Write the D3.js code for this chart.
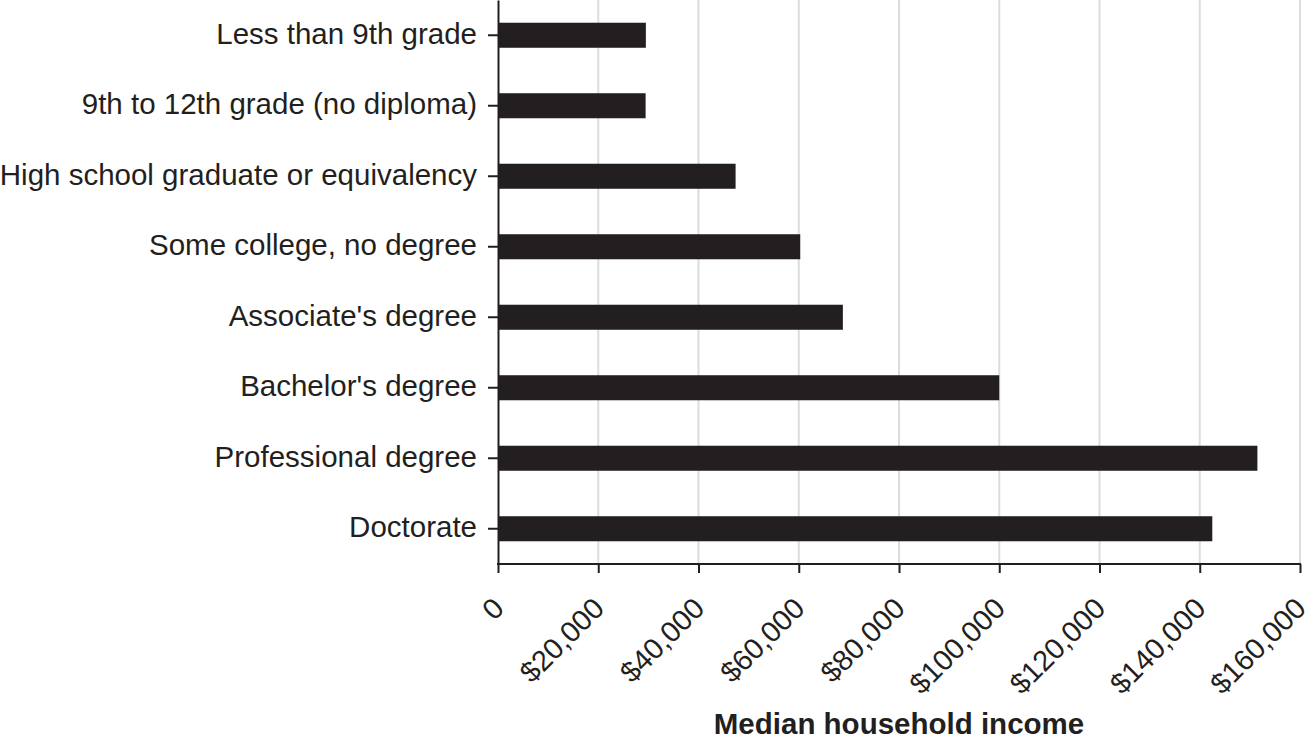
<!DOCTYPE html>
<html>
<head>
<meta charset="utf-8">
<script src="https://cdn.jsdelivr.net/npm/d3@7"></script>
<style>
  html, body { margin: 0; padding: 0; background: #fff; }
  svg { display: block; font-family: "Liberation Sans", Arial, Helvetica, sans-serif; }
</style>
</head>
<body>
<svg id="chart" width="1315" height="740"></svg>
<script>
const categories = [
  "Less than 9th grade",
  "9th to 12th grade (no diploma)",
  "High school graduate or equivalency",
  "Some college, no degree",
  "Associate's degree",
  "Bachelor's degree",
  "Professional degree",
  "Doctorate"
];
const incomes = [29500, 29450, 47400, 60300, 68800, 100000, 151500, 142500];
const tickValues = [0, 20000, 40000, 60000, 80000, 100000, 120000, 140000, 160000];
const tickLabels = ["0", "$20,000", "$40,000", "$60,000", "$80,000", "$100,000", "$120,000", "$140,000", "$160,000"];
const axisTitle = "Median household income";

const ink = "#231f20";
const svg = d3.select("#chart");

const x = d3.scaleLinear().domain([0, 160000]).range([498, 1300]);
const y = d3.scaleBand().domain(categories).range([0, 564])
  .paddingInner(0.645).paddingOuter(0.3225);

// gridlines
svg.append("g").selectAll("line")
  .data(tickValues.slice(1))
  .join("line")
  .attr("x1", d => x(d)).attr("x2", d => x(d))
  .attr("y1", 0).attr("y2", 564)
  .attr("stroke", "#dcdcdc").attr("stroke-width", 2);

// bars
svg.append("g").selectAll("rect")
  .data(categories.map((c, i) => ({c, v: incomes[i]})))
  .join("rect")
  .attr("x", x(0))
  .attr("y", d => y(d.c))
  .attr("width", d => x(d.v) - x(0))
  .attr("height", y.bandwidth())
  .attr("fill", ink);

// y axis
const yAxis = svg.append("g")
  .attr("transform", `translate(${x(0)},0)`)
  .call(d3.axisLeft(y).tickSize(10).tickSizeOuter(0).tickPadding(11));
yAxis.select(".domain").attr("stroke", ink).attr("stroke-width", 2);
yAxis.selectAll(".tick line").attr("stroke", ink).attr("stroke-width", 2);
yAxis.selectAll(".tick text")
  .attr("fill", ink)
  .attr("font-size", "29.5px")
  .attr("dy", "0.28em")
  .attr("font-family", "'Liberation Sans', Arial, sans-serif");

// x axis
const xAxis = svg.append("g")
  .attr("transform", "translate(0,564)")
  .call(d3.axisBottom(x).tickValues(tickValues).tickSize(9).tickSizeOuter(0)
    .tickFormat((d, i) => tickLabels[i]));
xAxis.select(".domain").attr("stroke", ink).attr("stroke-width", 2)
  .attr("d", `M${x(0) - 1},0H${x(160000) + 1}`);
xAxis.selectAll(".tick line").attr("stroke", ink).attr("stroke-width", 2);
xAxis.selectAll(".tick text")
  .attr("fill", ink)
  .attr("font-size", "29px")
  .attr("font-family", "'Liberation Sans', Arial, sans-serif")
  .attr("text-anchor", "end")
  .attr("x", 0).attr("y", 0)
  .attr("dy", "0.35em")
  .attr("transform", "translate(0,39) rotate(-45)");

// axis title
svg.append("text")
  .attr("x", (x(0) + x(160000)) / 2)
  .attr("y", 734)
  .attr("text-anchor", "middle")
  .attr("font-weight", "bold")
  .attr("font-size", "29.5px")
  .attr("fill", ink)
  .text(axisTitle);
</script>
</body>
</html>
